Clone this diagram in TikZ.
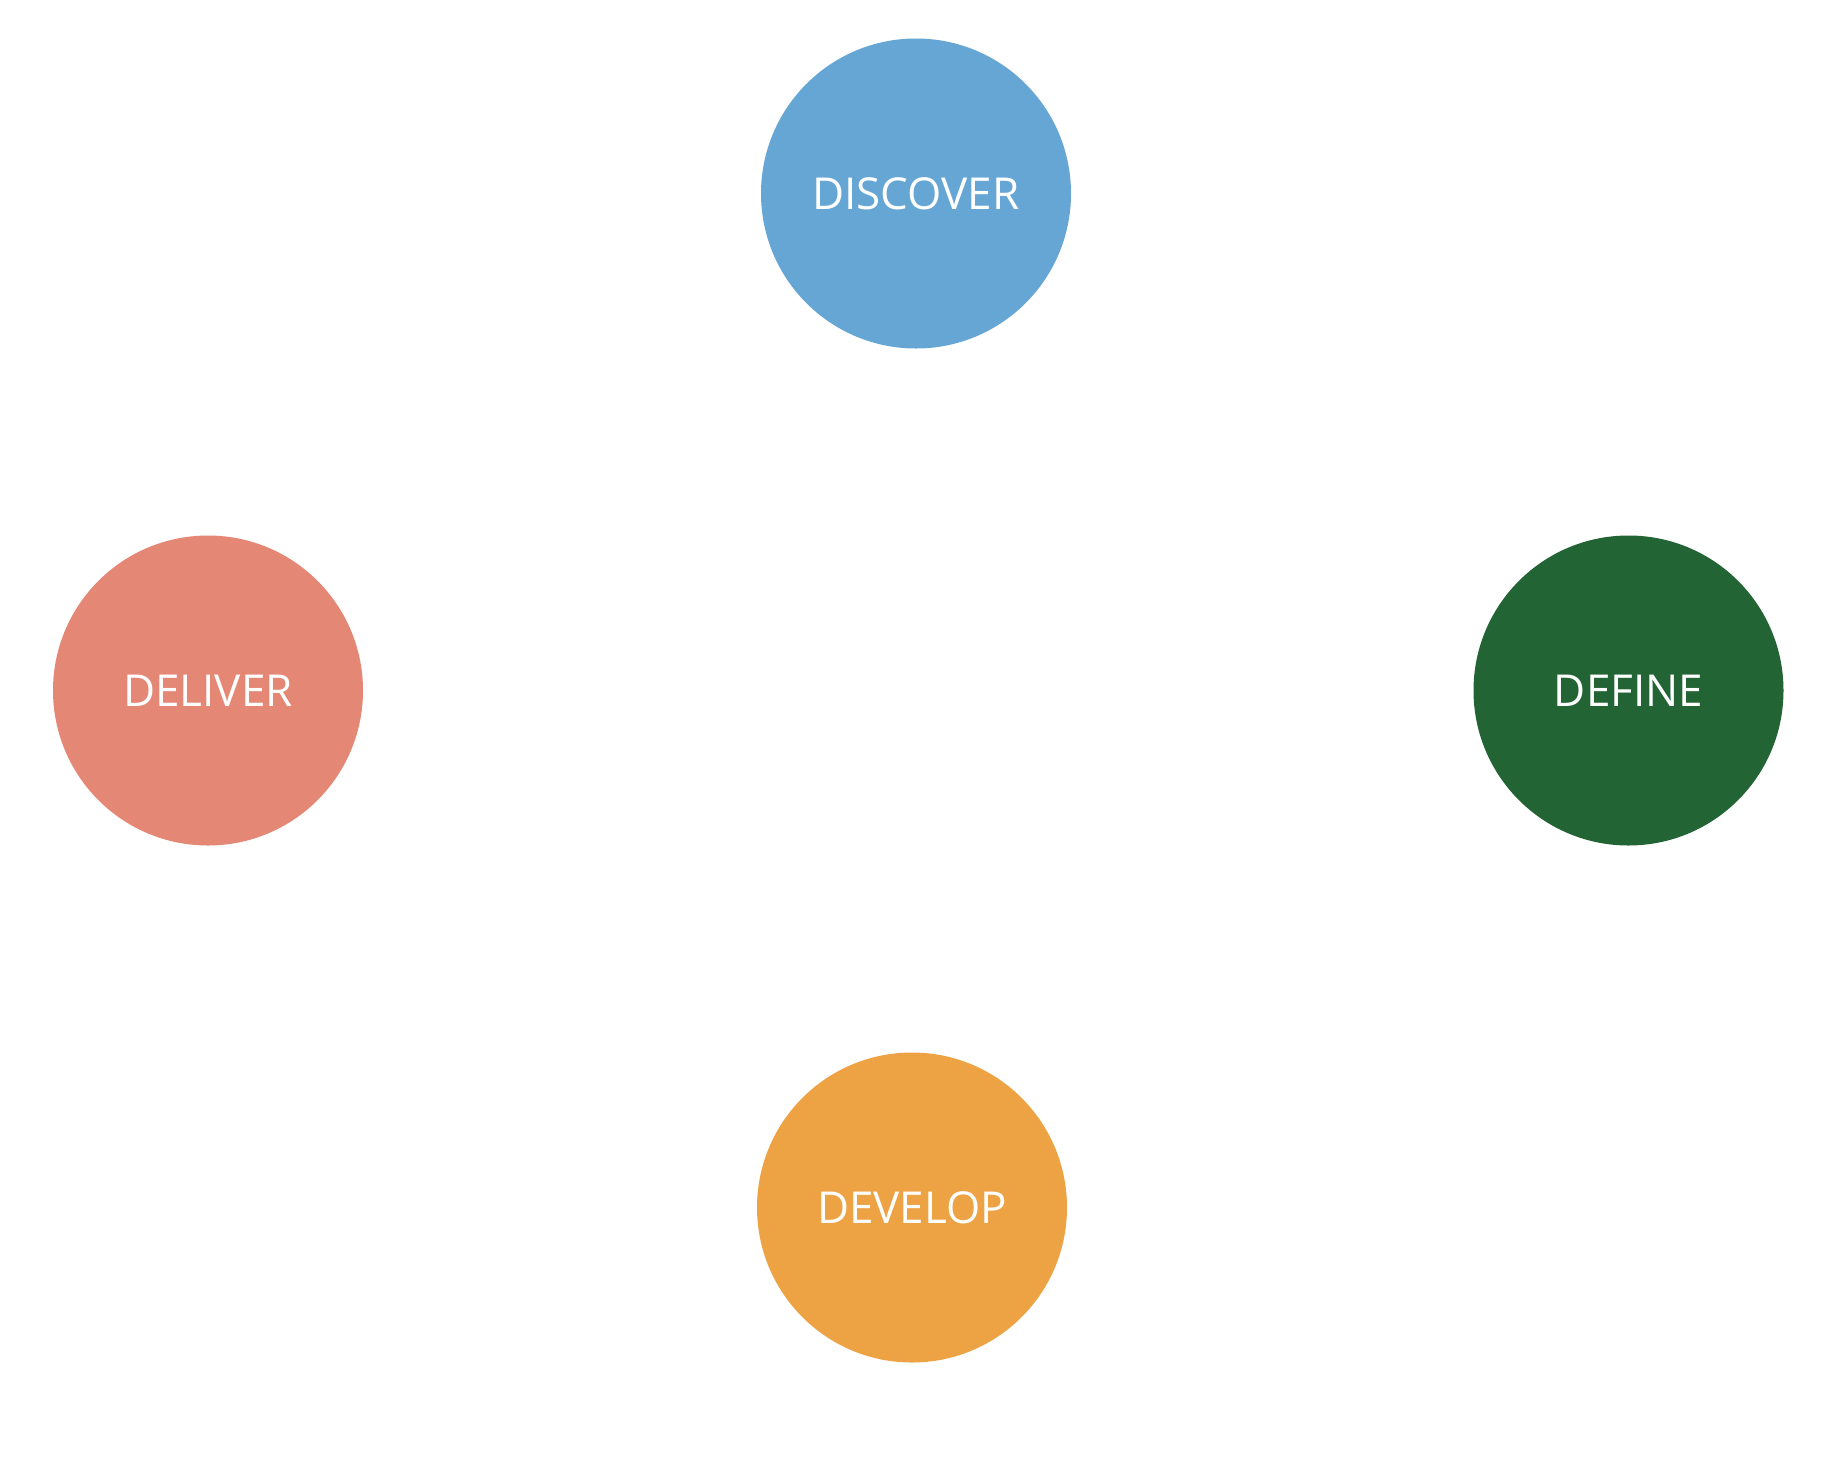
\documentclass[tikz,border=0pt]{standalone}
\usepackage{fontspec}
\setmainfont{Open Sans}
\definecolor{cblue}{HTML}{66A6D5}
\definecolor{csalmon}{HTML}{E48775}
\definecolor{cgreen}{HTML}{236435}
\definecolor{corange}{HTML}{EDA243}
\begin{document}
\begin{tikzpicture}[x=0.5pt,y=-0.5pt,
  phase/.style={circle,minimum size=155pt,inner sep=0pt,text=white,font=\fontsize{22}{26}\selectfont}]
\useasboundingbox[fill=white] (0,0) rectangle (1826,1457);
\node[phase,fill=cblue] (discover) at (916,193.5) {DISCOVER};
\node[phase,fill=cgreen] (define) at (1628.5,690.5) {DEFINE};
\node[phase,fill=csalmon] (deliver) at (208,690.5) {DELIVER};
\node[phase,fill=corange] (develop) at (912,1207.5) {DEVELOP};
\end{tikzpicture}
\end{document}
